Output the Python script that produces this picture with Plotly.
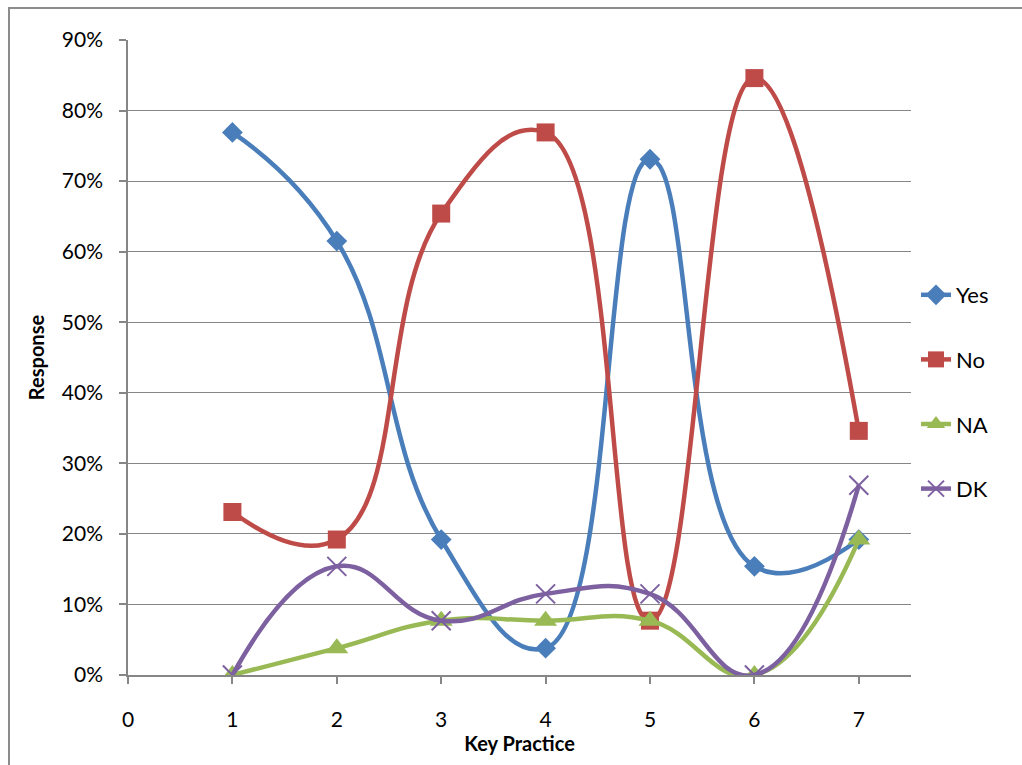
import plotly.graph_objects as go

key_practice = [1, 2, 3, 4, 5, 6, 7]
yes = [0.769, 0.615, 0.192, 0.038, 0.731, 0.154, 0.192]
no = [0.231, 0.192, 0.654, 0.769, 0.077, 0.846, 0.346]
na = [0.0, 0.038, 0.077, 0.077, 0.077, 0.0, 0.192]
dk = [0.0, 0.154, 0.077, 0.115, 0.115, 0.0, 0.269]
x_ticks = [0, 1, 2, 3, 4, 5, 6, 7]
y_ticks = [0, 0.1, 0.2, 0.3, 0.4, 0.5, 0.6, 0.7, 0.8, 0.9]

series = [
    ("Yes", yes, "#4A7EBB", "diamond", 16),
    ("No", no, "#BE4B48", "square", 18),
    ("NA", na, "#98B954", "triangle-up", 20),
    ("DK", dk, "#7D60A0", "x-thin", 19),
]

FONT = "Lato, 'Open Sans', sans-serif"
fig = go.Figure()
for name, vals, color, sym, size in series:
    marker = dict(symbol=sym, size=size, color=color)
    if sym == "x-thin":
        marker["line"] = dict(color=color, width=2)
    fig.add_trace(go.Scatter(
        x=key_practice, y=vals, name=name, mode="lines+markers",
        line=dict(color=color, width=4.5, shape="spline", smoothing=1.3),
        marker=marker, legendgroup=name,
    ))

W, H = 1022, 765
L, R, T, B = 128, 111, 40, 90
pw = W - L - R
ph = H - T - B


def px_x(p):
    return (p - L) / pw


def px_y(p):
    return (H - B - p) / ph


fig.add_shape(type="rect", xref="paper", yref="paper",
              x0=px_x(9), x1=px_x(1040), y0=px_y(8), y1=px_y(790),
              line=dict(color="#8C8C8C", width=2), layer="below")

fig.update_layout(
    width=W, height=H,
    margin=dict(l=L, r=R, t=T, b=B),
    paper_bgcolor="white", plot_bgcolor="white",
    font=dict(family=FONT, size=21, color="black"),
    showlegend=True,
    legend=dict(x=px_x(916), y=px_y(274), xanchor="left", yanchor="top",
                tracegroupgap=33, font=dict(size=22), bgcolor="rgba(0,0,0,0)"),
    xaxis=dict(range=[0, 7.5], tickvals=x_ticks, showgrid=False, zeroline=False,
               showline=True, linecolor="#868686", linewidth=1.5,
               ticks="outside", ticklen=7, tickcolor="#868686", tickwidth=1.5,
               ticklabelstandoff=18,
               title=dict(text="<b>Key Practice</b>", font=dict(size=20), standoff=4)),
    yaxis=dict(range=[0, 0.9], tickvals=y_ticks, tickformat=".0%",
               showgrid=True, gridcolor="#868686", gridwidth=1.3, zeroline=False,
               showline=True, linecolor="#868686", linewidth=1.5,
               ticks="outside", ticklen=7, tickcolor="#868686", tickwidth=1.5,
               ticklabelstandoff=12,
               title=dict(text="<b>Response</b>", font=dict(size=20), standoff=12)),
)

fig.write_html("out.html")
